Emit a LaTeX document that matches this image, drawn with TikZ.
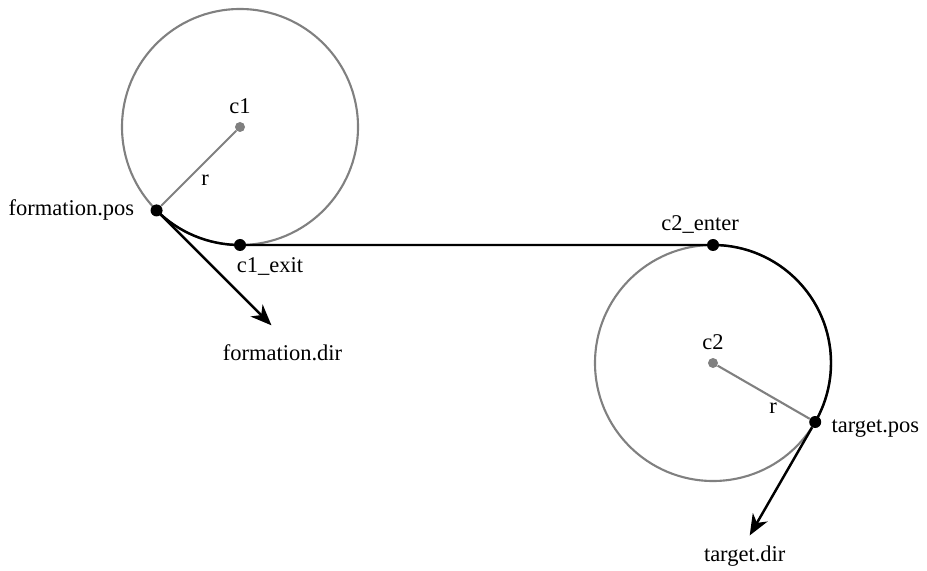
\documentclass[tikz,border=0pt]{standalone}
\usepackage{fontspec}
\setmainfont{Liberation Serif}
\usetikzlibrary{calc,arrows.meta}

\tikzset{
  ring/.style={draw=black!50, line width=1.2pt},
  spoke/.style={draw=black!50, line width=1.2pt},
  route/.style={draw=black, line width=1.4pt},
  dot/.style={circle, fill=black, inner sep=0pt, minimum size=0.24cm},
  hub/.style={circle, fill=black!50, inner sep=0pt, minimum size=0.2cm},
  tag/.style={inner sep=0pt}
}

\begin{document}
\begin{tikzpicture}[>={Stealth[length=0.42cm,width=0.34cm,inset=0.13cm]},
    font=\fontsize{12.8}{15}\selectfont]
    \useasboundingbox (0,0) rectangle (18.54,11.4);

    % the two turning circles
    \coordinate (c1) at (4.80,8.86);
    \coordinate (c2) at (14.26,4.14);
    \draw[ring] (c1) circle (2.36);
    \draw[ring] (c2) circle (2.36);

    % route: arc, straight, arc
    \draw[route] ($(c1)+(225:2.36)$) arc[start angle=225, end angle=270, radius=2.36]
        -- ($(c2)+(90:2.36)$) arc[start angle=90, end angle=-30, radius=2.36];

    \node[hub] (hub1) at (c1) {};
    \node[hub] (hub2) at (c2) {};
    \node[dot] (fpos)  at ($(c1)+(225:2.36)$) {};
    \node[dot] (exit)  at ($(c1)+(270:2.36)$) {};
    \node[dot] (enter) at ($(c2)+(90:2.36)$)  {};
    \node[dot] (tpos)  at ($(c2)+(-30:2.36)$) {};
    \coordinate (fdir) at ($(fpos)+(-45:3.25)$);
    \coordinate (tdir) at ($(tpos)+(-120:2.62)$);

    \path (hub1) edge[spoke] (fpos)
          (hub2) edge[spoke] (tpos)
          (fpos) edge[route,->] (fdir)
          (tpos) edge[route,->] (tdir);

    % labels
    \node[tag] (c1label)    at ($(hub1)+(0,0.42)$)     {c1};
    \node[tag] (c2label)    at ($(hub2)+(0,0.42)$)     {c2};
    \node[tag] (r1label)    at ($(hub1)+(-0.70,-1.06)$) {r};
    \node[tag] (r2label)    at ($(hub2)+(1.20,-0.90)$)  {r};
    \node[tag,anchor=east] (fposlabel) at ($(fpos)+(-0.44,0)$) {formation.pos};
    \node[tag] (exitlabel)  at ($(exit)+(0.60,-0.44)$)  {c1\_exit};
    \node[tag] (fdirlabel)  at ($(fdir)+(0.22,-0.54)$)  {formation.dir};
    \node[tag] (enterlabel) at ($(enter)+(-0.26,0.40)$) {c2\_enter};
    \node[tag,anchor=west] (tposlabel) at ($(tpos)+(0.32,-0.14)$) {target.pos};
    \node[tag] (tdirlabel)  at ($(tdir)+(-0.10,-0.42)$) {target.dir};
\end{tikzpicture}
\end{document}
